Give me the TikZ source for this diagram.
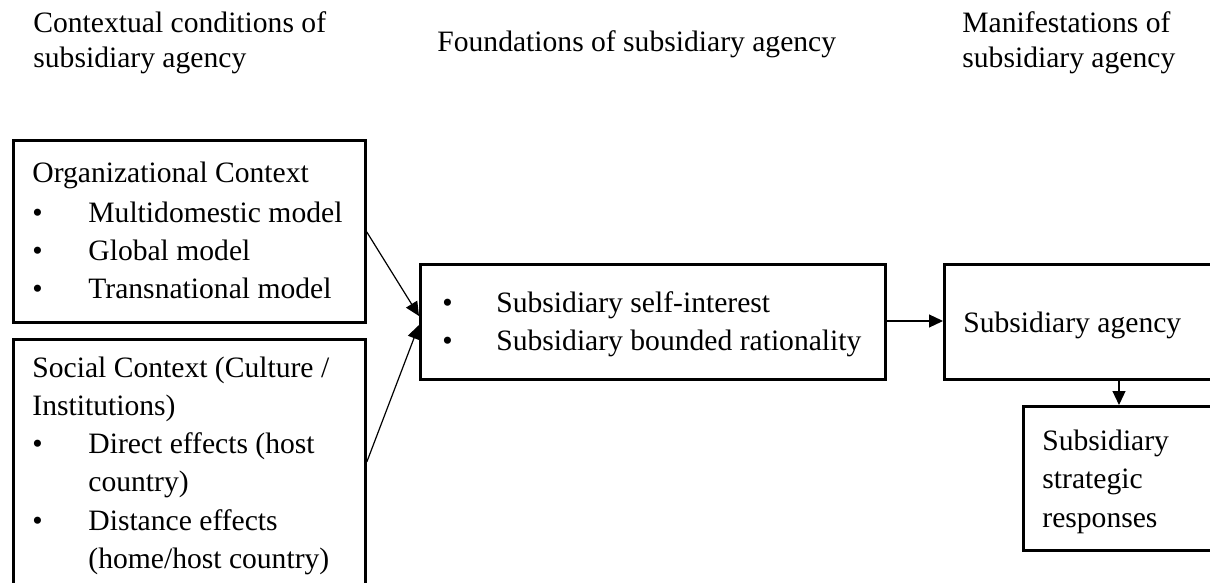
\documentclass[tikz,border=0pt]{standalone}
\usepackage{fontspec}
\setmainfont{Liberation Serif}
\usetikzlibrary{arrows.meta}
\tikzset{
  box/.style={draw=black, line width=1.4pt, rectangle},
  txt/.style={anchor=base west, inner sep=0pt, font=\fontsize{14.8}{19}\selectfont},
  conn/.style={draw=black, line width=0.6pt, -{Triangle[length=7pt,width=6.5pt]}}
}
\begin{document}
\begin{tikzpicture}[x=0.5pt,y=-0.5pt]
\useasboundingbox (0,0) rectangle (1210,583);
\clip (0,0) rectangle (1210,583);
% boxes
\node[box, minimum width=176pt, minimum height=91pt, anchor=north west] (org) at (12,139) {};
\node[box, minimum width=176pt, minimum height=130pt, anchor=north west] (soc) at (12,338) {};
\node[box, minimum width=232.5pt, minimum height=57.5pt, anchor=north west] (mid) at (419,263) {};
\node[box, minimum width=150pt, minimum height=57.5pt, anchor=north west] (agn) at (943,263) {};
\node[box, minimum width=110pt, minimum height=72pt, anchor=north west] (str) at (1022,405) {};
% headers
\node[txt] (h1a) at (33,33) {Contextual conditions of};
\node[txt] (h1b) at (33,68) {subsidiary agency};
\node[txt] (h2) at (437,52) {Foundations of subsidiary agency};
\node[txt] (h3a) at (962,33) {Manifestations of};
\node[txt] (h3b) at (962,68) {subsidiary agency};
% organizational context
\node[txt] (o0) at (32,183) {Organizational Context};
\node[txt] (ob1) at (32,222) {•};
\node[txt] (o1) at (88,222) {Multidomestic model};
\node[txt] (ob2) at (32,260) {•};
\node[txt] (o2) at (88,260) {Global model};
\node[txt] (ob3) at (32,298) {•};
\node[txt] (o3) at (88,298) {Transnational model};
% social context
\node[txt] (s0) at (32,377) {Social Context (Culture /};
\node[txt] (s1) at (32,415) {Institutions)};
\node[txt] (sb1) at (32,453) {•};
\node[txt] (s2) at (88,453) {Direct effects (host};
\node[txt] (s3) at (88,491) {country)};
\node[txt] (sb2) at (32,530) {•};
\node[txt] (s4) at (88,530) {Distance effects};
\node[txt] (s5) at (88,568) {(home/host country)};
% middle
\node[txt] (mb1) at (442,312) {•};
\node[txt] (m1) at (496,312) {Subsidiary self-interest};
\node[txt] (mb2) at (442,350) {•};
\node[txt] (m2) at (496,350) {Subsidiary bounded rationality};
% agency
\node[txt] (a1) at (963,332) {Subsidiary agency};
% strategic
\node[txt] (t1) at (1042,450) {Subsidiary};
\node[txt] (t2) at (1042,488) {strategic};
\node[txt] (t3) at (1042,527) {responses};
% connectors
\coordinate (oS) at (org.east |- 0,232);
\coordinate (sS) at (soc.east |- 0,462);
\coordinate (mT1) at (mid.west |- 0,316);
\coordinate (mT2) at (mid.west |- 0,325);
\draw[conn] (oS) -- (mT1);
\draw[conn] (sS) -- (mT2);
\draw[conn] (mid.east |- 0,321) -- (agn.west |- 0,321);
\draw[conn] (agn.south -| 1119,0) -- (str.north -| 1119,0);
\end{tikzpicture}
\end{document}
